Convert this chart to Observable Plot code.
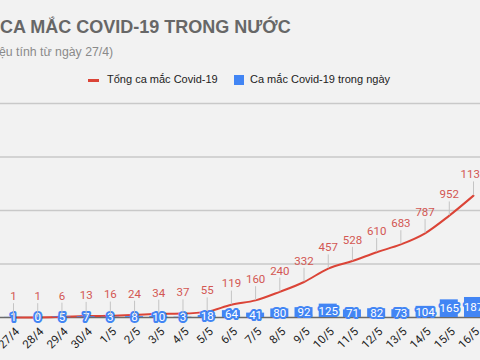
<!DOCTYPE html>
<html>
<head>
<meta charset="utf-8">
<script src="https://cdn.jsdelivr.net/npm/d3@7"></script>
<script src="https://cdn.jsdelivr.net/npm/@observablehq/plot@0.6"></script>
<style>
  html, body { margin: 0; padding: 0; background: #f2f2f2; }
  #wrap { position: relative; width: 480px; height: 360px; overflow: hidden; background: #f2f2f2; font-family: "Liberation Sans", Arial, sans-serif; }
  #title { position: absolute; left: 0px; top: 17px; font-size: 18px; font-weight: bold; color: #676767; white-space: nowrap; }
  #subtitle { position: absolute; left: -1px; top: 45px; font-size: 12.3px; color: #8a8a8a; white-space: nowrap; }
  #legend { position: absolute; left: 0; top: 73px; font-size: 11px; color: #222; white-space: nowrap; }
  .sw { position: absolute; }
  .lt { position: absolute; top: 0; }
  #chart { position: absolute; left: 0; top: 0; }
</style>
</head>
<body>
<div id="wrap">
  <div id="chart"></div>
  <div id="title">CA MẮC COVID-19 TRONG NƯỚC</div>
  <div id="subtitle">ệu tính từ ngày 27/4)</div>
  <div id="legend">
    <div class="sw" style="left:88px; top:6px; width:11px; height:3px; background:#db4437;"></div>
    <div class="lt" style="left:107px;">Tổng ca mắc Covid-19</div>
    <div class="sw" style="left:234px; top:2px; width:10px; height:10px; background:#4285f4;"></div>
    <div class="lt" style="left:250px;">Ca mắc Covid-19 trong ngày</div>
  </div>
</div>
<script>
const dates = ["27/4","28/4","29/4","30/4","1/5","2/5","3/5","4/5","5/5","6/5","7/5","8/5","9/5","10/5","11/5","12/5","13/5","14/5","15/5","16/5"];
const daily = [1,0,5,7,3,8,10,3,18,64,41,80,92,125,71,82,73,104,165,187];
const total = [1,1,6,13,16,24,34,37,55,119,160,240,332,457,528,610,683,787,952,1139];
const gridTicks = [500,1000,1500,2000];

const data = dates.map((d, i) => ({date: d, daily: daily[i], total: total[i]}));

const chart = Plot.plot({
  width: 480,
  height: 360,
  marginTop: 103,
  marginBottom: 43,
  marginLeft: 0,
  marginRight: 0,
  style: {background: "transparent", fontFamily: "Roboto, 'Liberation Sans', Arial, sans-serif"},
  x: {type: "band", domain: dates, range: [0.9, 485.1], paddingInner: 0.256, paddingOuter: 0.128, round: false, axis: null},
  y: {domain: [0, 2000], axis: null},
  marks: [
    Plot.gridY(gridTicks, {stroke: "#c9c9c9", strokeOpacity: 1, strokeWidth: 1.5}),
    Plot.ruleY([0], {stroke: "#6a6a6a", strokeWidth: 1.5}),
    Plot.lineY(data, {x: "date", y: "total", stroke: "#db4437", strokeWidth: 2, curve: "monotone-x"}),
    Plot.barY(data, {x: "date", y: "daily", fill: "#4285f4"}),
    Plot.text(data, {x: "date", y: d => d.daily / 2, text: d => String(d.daily), fill: "white", stroke: "#4285f4", strokeWidth: 4, strokeLinejoin: "round", paintOrder: "stroke", fontSize: 11.5}),
    Plot.ruleX(data, {x: "date", y1: "total", y2: d => d.total + 128, stroke: "#c4c4c4", strokeWidth: 1}),
    Plot.text(data, {x: "date", y: "total", text: d => String(d.total), dy: -21, fill: "#d35752", fontSize: 11.5}),
    Plot.axisX({tickRotate: -45, tickSize: 0, tickPadding: 12, dx: 4, label: null, fontSize: 11.5, color: "#222", fill: "#222", stroke: null})
  ]
});
document.getElementById("chart").appendChild(chart);
</script>
</body>
</html>
